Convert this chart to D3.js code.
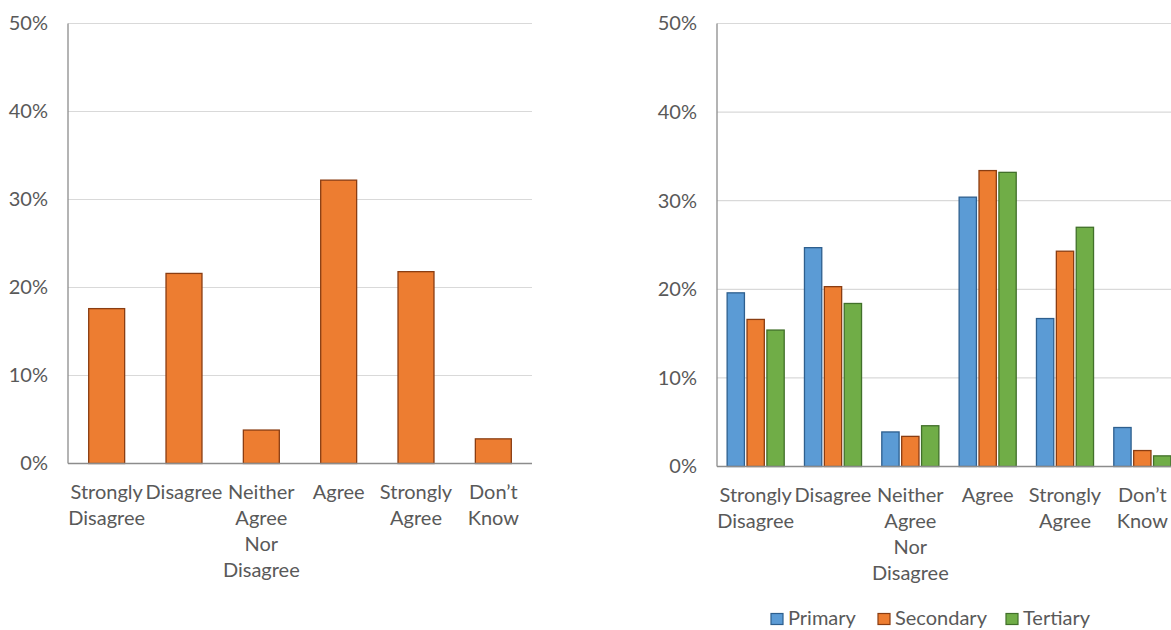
<!DOCTYPE html>
<html><head><meta charset="utf-8">
<script src="https://cdn.jsdelivr.net/npm/d3@7"></script>
<style>body{margin:0;background:#fff}svg{display:block}</style>
</head><body>
<svg id="c" width="1171" height="630"></svg>
<script>
const categories = ["Strongly Disagree","Disagree","Neither Agree Nor Disagree","Agree","Strongly Agree","Don\u2019t Know"];
const categoryLines = [["Strongly","Disagree"],["Disagree"],["Neither","Agree","Nor","Disagree"],["Agree"],["Strongly","Agree"],["Don\u2019t","Know"]];
const overallValues = [17.6, 21.6, 3.8, 32.2, 21.8, 2.8];
const seriesNames = ["Primary","Secondary","Tertiary"];
const primaryValues = [19.6, 24.7, 3.9, 30.4, 16.7, 4.4];
const secondaryValues = [16.6, 20.3, 3.4, 33.4, 24.3, 1.8];
const tertiaryValues = [15.4, 18.4, 4.6, 33.2, 27.0, 1.2];
const yTicks = [0, 10, 20, 30, 40, 50];

const fills = ["#5B9BD5","#ED7D31","#70AD47"];
const strokes = ["#2E5F8E","#8A3D12","#41702A"];
const font = "Lato, 'Open Sans', sans-serif";
const textColor = "#595959";
const svg = d3.select("#c");

function panel(x0, x1, y0, y1) {
  const g = svg.append("g");
  const x = d3.scaleBand().domain(categories).range([x0, x1]).paddingInner(0).paddingOuter(0);
  const y = d3.scaleLinear().domain([0, 50]).range([y0, y1]);
  g.append("g").selectAll("line").data(yTicks.filter(t => t > 0)).join("line")
    .attr("x1", x0).attr("x2", x1).attr("y1", d => y(d)).attr("y2", d => y(d))
    .attr("stroke", "#D9D9D9").attr("stroke-width", 1.2);
  const yAxis = d3.axisLeft(y).tickValues(yTicks).tickFormat(d => d + "%").tickSize(0).tickPadding(20);
  const ya = g.append("g").attr("transform", `translate(${x0},0)`).call(yAxis);
  ya.select(".domain").remove();
  ya.selectAll("text").attr("fill", textColor).style("font-family", font).style("font-size", "20px");
  return {g, x, y};
}

function catLabels(p, xs, top) {
  const t = p.g.append("g").selectAll("text").data(categoryLines).join("text")
    .attr("text-anchor", "middle").attr("fill", textColor)
    .style("font-family", font).style("font-size", "20px")
    .attr("transform", (d, i) => `translate(${xs(categories[i]) + xs.bandwidth() / 2},${top})`);
  t.selectAll("tspan").data(d => d).join("tspan").attr("x", 0).attr("y", (d, i) => i * 26).text(d => d);
}

// Left panel
const L = panel(68, 532, 463.5, 23.5);
const xl = d3.scaleBand().domain(categories).range([68, 532]).paddingInner(0.535).paddingOuter(0.2675);
L.g.append("g").selectAll("rect").data(overallValues).join("rect")
  .attr("x", (d, i) => xl(categories[i])).attr("width", xl.bandwidth())
  .attr("y", d => L.y(d)).attr("height", d => L.y(0) - L.y(d))
  .attr("fill", fills[1]).attr("stroke", strokes[1]).attr("stroke-width", 1.3);
L.g.append("line").attr("x1", 68).attr("x2", 68).attr("y1", 23.5).attr("y2", 463.5).attr("stroke", "#8C8C8C").attr("stroke-width", 1.3);
L.g.append("line").attr("x1", 68).attr("x2", 532).attr("y1", 463.5).attr("y2", 463.5).attr("stroke", "#8C8C8C").attr("stroke-width", 1.3);
catLabels(L, L.x, 499);

// Right panel
const R = panel(717, 1181, 466.5, 23.5);
const xr = d3.scaleBand().domain(categories).range([717, 1181]).paddingInner(0.262).paddingOuter(0.131);
const xs = d3.scaleBand().domain(seriesNames).range([0, xr.bandwidth()]).paddingInner(0.13);
const seriesValues = [primaryValues, secondaryValues, tertiaryValues];
seriesNames.forEach((s, k) => {
  R.g.append("g").selectAll("rect").data(seriesValues[k]).join("rect")
    .attr("x", (d, i) => xr(categories[i]) + xs(s)).attr("width", xs.bandwidth())
    .attr("y", d => R.y(d)).attr("height", d => R.y(0) - R.y(d))
    .attr("fill", fills[k]).attr("stroke", strokes[k]).attr("stroke-width", 1.3);
});
R.g.append("line").attr("x1", 717).attr("x2", 717).attr("y1", 23.5).attr("y2", 466.5).attr("stroke", "#8C8C8C").attr("stroke-width", 1.3);
R.g.append("line").attr("x1", 717).attr("x2", 1181).attr("y1", 466.5).attr("y2", 466.5).attr("stroke", "#8C8C8C").attr("stroke-width", 1.3);
catLabels(R, R.x, 502);

// Legend
const legendX = [771, 878, 1006];
const lg = svg.append("g");
seriesNames.forEach((s, k) => {
  lg.append("rect").attr("x", legendX[k]).attr("y", 613.5).attr("width", 12).attr("height", 11)
    .attr("fill", fills[k]).attr("stroke", strokes[k]).attr("stroke-width", 1.2);
  lg.append("text").attr("x", legendX[k] + 17).attr("y", 625).text(s)
    .attr("fill", textColor).style("font-family", font).style("font-size", "20px");
});
</script>
</body></html>
